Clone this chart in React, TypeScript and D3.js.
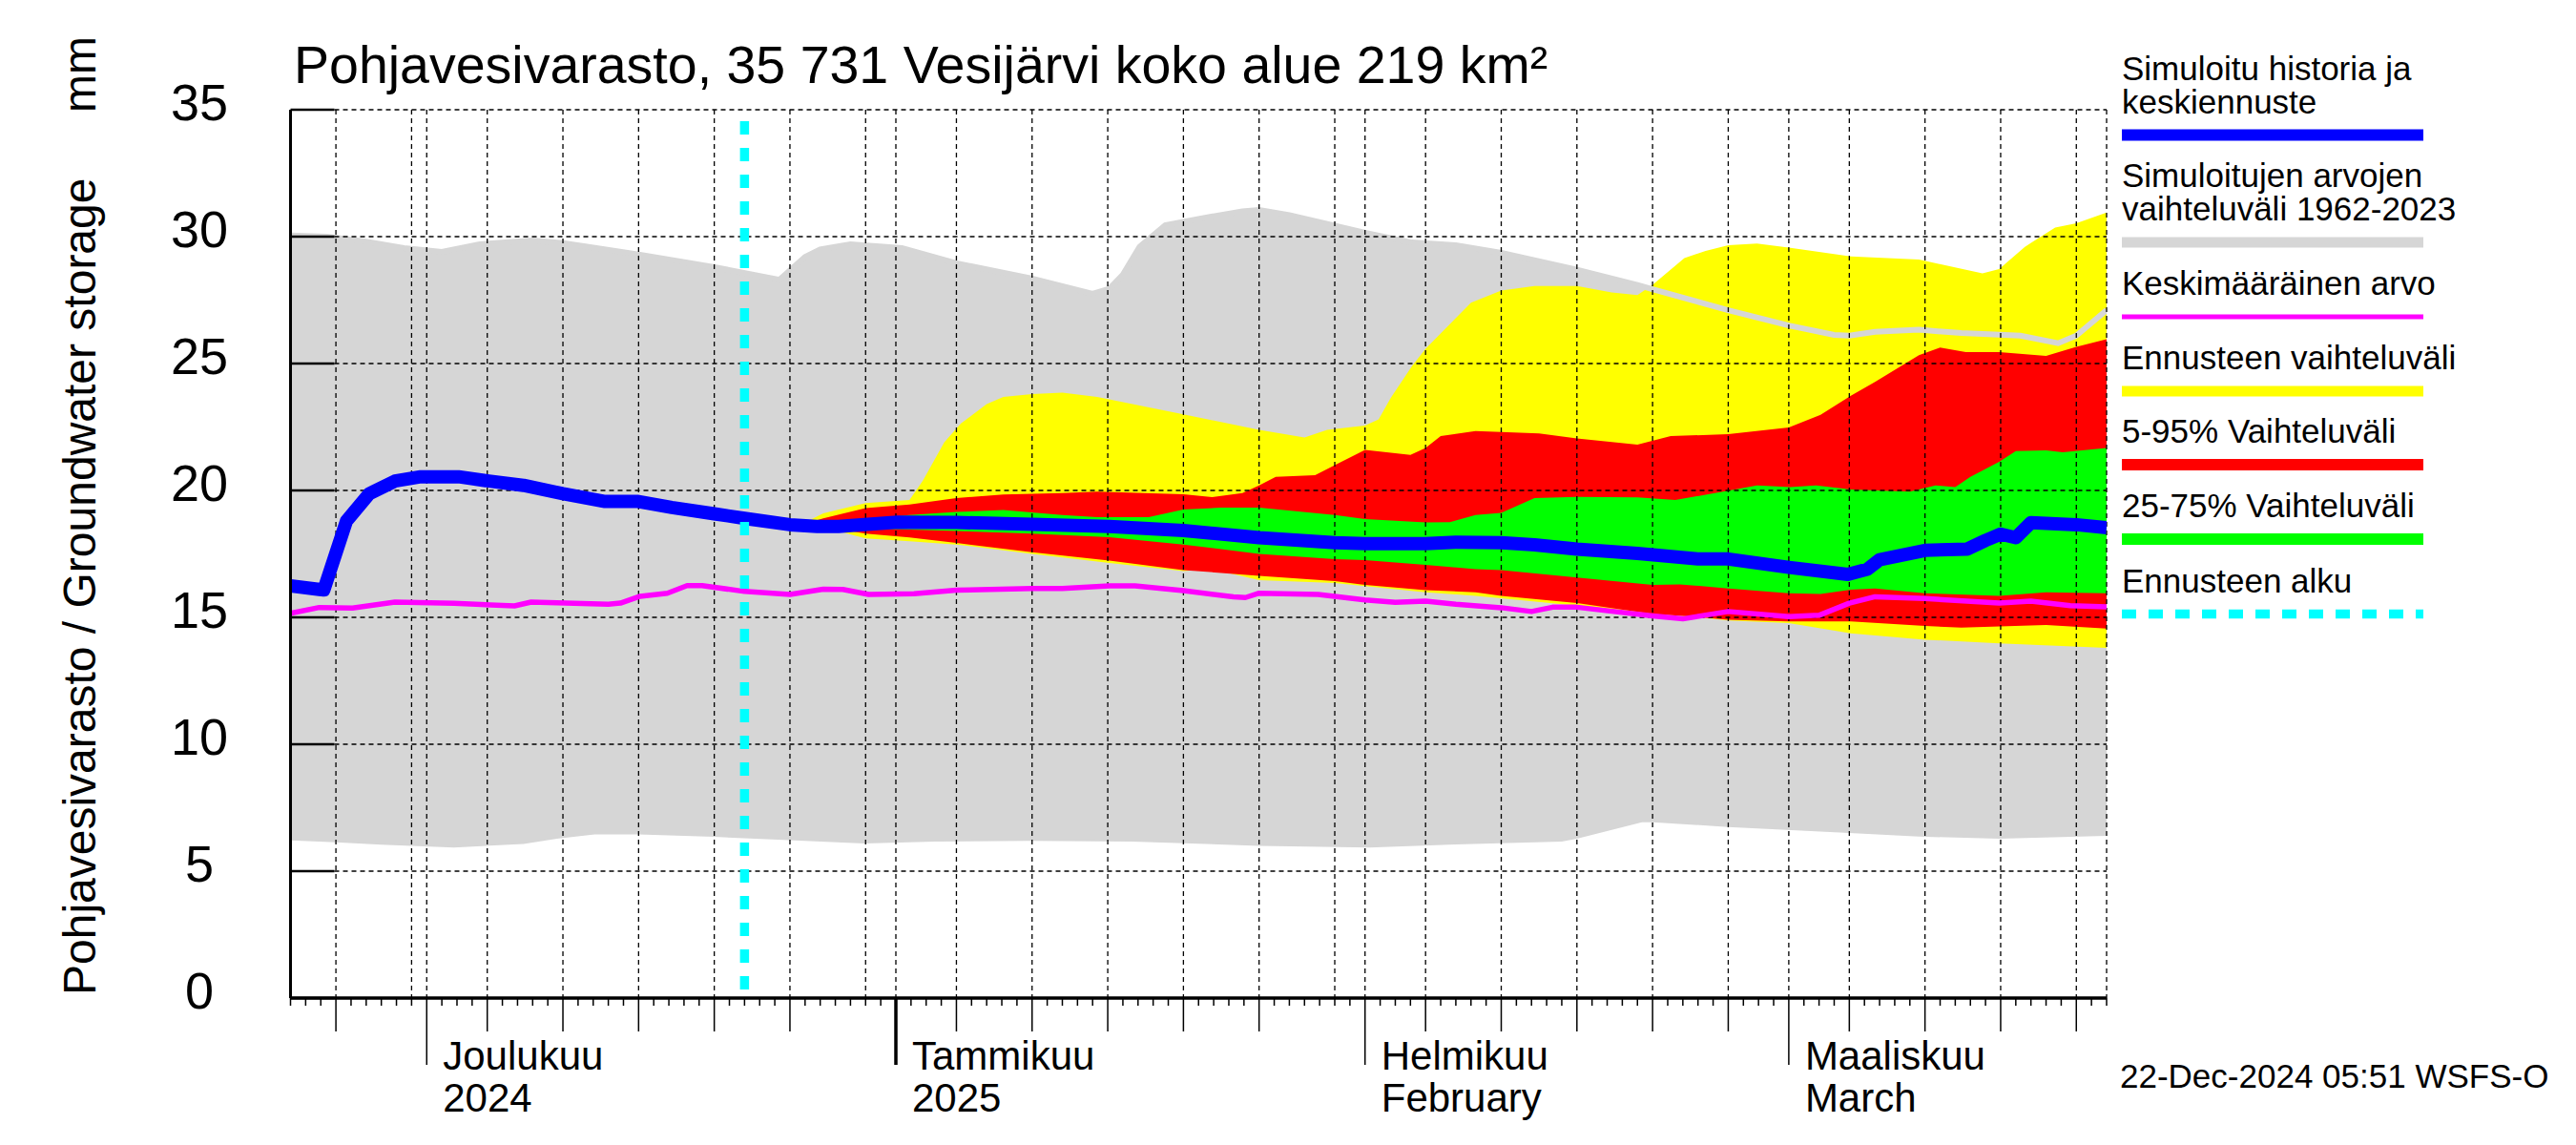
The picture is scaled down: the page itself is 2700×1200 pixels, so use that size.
import * as d3 from "d3";

// [day offset from 22 Nov 2024, mm]
type P = [number, number];

const START = new Date(2024, 10, 22);
const END = new Date(2025, 2, 22);
const FORECAST_START = new Date(2024, 11, 22);

const title = "Pohjavesivarasto, 35 731 Vesijärvi koko alue 219 km²";
const yLabel = "Pohjavesivarasto / Groundwater storage";
const yUnit = "mm";
const stamp = "22-Dec-2024 05:51 WSFS-O";

const yTicks = [0, 5, 10, 15, 20, 25, 30, 35];

const monthStarts = [
  new Date(2024, 11, 1),
  new Date(2025, 0, 1),
  new Date(2025, 1, 1),
  new Date(2025, 2, 1),
];
const monthNames = ["Joulukuu", "Tammikuu", "Helmikuu", "Maaliskuu"];
const monthSub = ["2024", "2025", "February", "March"];

// Simulated range 1962-2023
const greyUpper: P[] = [
  [0, 30.05], [2.4, 30.0], [5, 29.8], [7.5, 29.55], [10, 29.4], [12.5, 29.7],
  [16, 29.85], [18, 29.75], [23, 29.3], [28, 28.8], [32.3, 28.3], [34, 29.2],
  [35, 29.5], [37, 29.7], [40.4, 29.55], [44, 28.95], [49, 28.35], [53, 27.75],
  [54.1, 27.95], [55, 28.5], [56.1, 29.6], [57.8, 30.45], [60, 30.7], [62.9, 31.0],
  [64, 31.05], [66, 30.85], [68.5, 30.5], [71, 30.15], [74.1, 29.77], [77, 29.66],
  [80, 29.36], [85, 28.7], [89, 28.1], [90, 27.93], [95, 27.1], [99, 26.5],
  [102, 26.13], [103, 26.1], [104.7, 26.25], [107.6, 26.33], [110.4, 26.2],
  [114.3, 26.1], [116.8, 25.8], [118, 26.1], [120, 27.1],
];
const greyLower: P[] = [
  [0, 6.21], [3, 6.14], [6, 6.04], [10.8, 5.93], [15.4, 6.07], [17.6, 6.28],
  [20.1, 6.45], [23, 6.45], [28, 6.35], [32.2, 6.24], [37.9, 6.09], [42.6, 6.17],
  [48.8, 6.19], [55.6, 6.17], [64, 6.0], [71.3, 5.93], [77, 6.05], [84, 6.17],
  [85, 6.28], [89.3, 6.93], [90, 6.93], [95, 6.74], [103, 6.5], [107.6, 6.36],
  [112.9, 6.28], [120, 6.39],
];

// Forecast ranges
const yellowUpper: P[] = [
  [33.6, 18.62], [35.2, 19.1], [38, 19.5], [40.9, 19.62], [41.8, 20.4], [43.2, 21.9],
  [44.3, 22.64], [46, 23.4], [47.1, 23.68], [49, 23.8], [51, 23.85], [53.3, 23.68],
  [59, 23.0], [64, 22.39], [67, 22.09], [68.5, 22.39], [71, 22.56], [71.9, 22.8],
  [72.7, 23.65], [74.1, 24.9], [75, 25.58], [78, 27.4], [80, 27.88], [82.2, 28.05],
  [85, 28.05], [87.3, 27.8], [89, 27.7], [90, 28.1], [92.1, 29.15], [93.5, 29.44],
  [95, 29.66], [96.9, 29.73], [99, 29.57], [103.1, 29.22], [107.6, 29.1],
  [111.8, 28.55], [112.9, 28.72], [114.6, 29.6], [116.6, 30.36], [118, 30.53],
  [120, 30.95],
];
const yellowLower: P[] = [
  [33.6, 18.62], [35.2, 18.55], [38, 18.11], [40.9, 18.0], [44, 17.87], [49, 17.5],
  [54.1, 17.14], [59, 16.82], [60.9, 16.9], [64, 16.47], [69, 16.35], [75, 15.99],
  [78.3, 15.85], [80, 15.75], [85, 15.46], [90, 15.13], [92, 15.06], [95, 14.88],
  [99, 14.77], [103.1, 14.37], [108, 14.12], [112.9, 13.98], [120, 13.8],
];
const redUpper: P[] = [
  [33.6, 18.62], [35.2, 18.9], [38, 19.3], [40.9, 19.45], [44, 19.7], [47.1, 19.84],
  [51, 19.9], [53.3, 19.95], [59, 19.85], [60.9, 19.74], [62.9, 19.9], [64, 20.2],
  [65.1, 20.54], [67.7, 20.6], [69, 21.0], [71, 21.6], [74, 21.4], [75, 21.67],
  [76, 22.14], [78.3, 22.34], [80, 22.3], [82.5, 22.25], [85, 22.05], [89, 21.8],
  [91.2, 22.14], [95, 22.22], [99, 22.48], [101.1, 22.98], [103.1, 23.73],
  [104.7, 24.28], [107.6, 25.33], [109, 25.63], [110.7, 25.45], [112.9, 25.45],
  [116, 25.3], [118, 25.66], [120, 25.96],
];
const redLower: P[] = [
  [33.6, 18.62], [35.2, 18.58], [38, 18.3], [40.9, 18.15], [44, 17.93], [49, 17.57],
  [54.1, 17.24], [59, 16.86], [64, 16.64], [69, 16.43], [71, 16.28], [75, 16.07],
  [78.3, 15.99], [80, 15.85], [85, 15.56], [90, 15.13], [92, 15.06], [95, 14.91],
  [99, 14.84], [103.1, 14.84], [108, 14.66], [110.4, 14.6], [116, 14.7], [120, 14.56],
];
const greenUpper: P[] = [
  [33.6, 18.62], [35.2, 18.7], [38, 18.85], [40.9, 19.03], [44, 19.15], [47.1, 19.23],
  [51, 19.03], [53.3, 18.95], [56.7, 18.95], [59, 19.25], [61.5, 19.32], [64, 19.32],
  [69, 19.03], [71, 18.87], [75, 18.74], [76.6, 18.75], [78.3, 19.03], [80, 19.12],
  [82.2, 19.7], [85, 19.75], [89, 19.73], [91.5, 19.62], [95, 19.99], [96.9, 20.2],
  [99.1, 20.13], [100.8, 20.2], [103.1, 20.04], [107, 19.95], [108.7, 20.2],
  [110, 20.13], [111, 20.54], [112.9, 21.13], [114, 21.55], [116, 21.58],
  [117.1, 21.5], [120, 21.67],
];
const greenLower: P[] = [
  [33.6, 18.62], [35.2, 18.6], [38, 18.5], [40.4, 18.47], [44, 18.4], [49, 18.3],
  [54.1, 18.16], [59, 17.87], [64, 17.5], [69, 17.29], [71, 17.26], [75, 17.07],
  [78.3, 16.9], [80, 16.86], [85, 16.57], [90, 16.28], [91.8, 16.3], [95, 16.14],
  [99, 15.95], [101.1, 15.92], [103.1, 16.09], [104.7, 16.14], [108, 15.95],
  [112.9, 15.85], [116, 15.99], [120, 15.95],
];

// Simulated history and median forecast
const median: P[] = [
  [0, 16.24], [1.9, 16.1], [2.2, 16.08], [3.7, 18.8], [5.2, 19.87], [6.9, 20.37],
  [8.6, 20.54], [11.1, 20.54], [13.1, 20.37], [15.4, 20.2], [18, 19.87], [20.7, 19.57],
  [22.9, 19.57], [25.2, 19.33], [28, 19.08], [30, 18.9], [33, 18.65], [34.8, 18.58],
  [36.2, 18.58], [40.1, 18.75], [44, 18.74], [49, 18.67], [54.1, 18.58], [59, 18.42],
  [64, 18.14], [69, 17.94], [71, 17.9], [75, 17.9], [77, 17.96], [80, 17.94],
  [82.2, 17.86], [85, 17.69], [89, 17.52], [93, 17.3], [95, 17.3], [99, 16.97],
  [102.9, 16.69], [104.2, 16.9], [105, 17.27], [108, 17.64], [110.8, 17.69],
  [112, 18.03], [113, 18.28], [114, 18.14], [115, 18.73], [118, 18.65], [120, 18.53],
];

// Long-term mean
const mean: P[] = [
  [0, 15.16], [1.9, 15.39], [4.1, 15.37], [6.9, 15.6], [10.8, 15.55], [14.8, 15.45],
  [15.9, 15.6], [21, 15.52], [21.8, 15.56], [23.1, 15.83], [24.9, 15.95], [26.2, 16.25],
  [27.2, 16.25], [30, 16.02], [33, 15.9], [35.2, 16.11], [36.5, 16.1], [38.2, 15.9],
  [41.2, 15.93], [44, 16.07], [49, 16.14], [51, 16.14], [54.1, 16.24], [55.8, 16.24],
  [59, 16.05], [62.3, 15.81], [63.1, 15.78], [64, 15.95], [67.9, 15.9], [71, 15.69],
  [73, 15.59], [75, 15.64], [77, 15.52], [80, 15.38], [82, 15.23], [83.4, 15.4],
  [85, 15.4], [90, 15.06], [92, 14.94], [95, 15.23], [99, 15.03], [101, 15.08],
  [103, 15.56], [104.7, 15.81], [108, 15.74], [112.9, 15.56], [115, 15.64],
  [117.6, 15.46], [120, 15.41],
];

const legendItems = [
  { lines: ["Simuloitu historia ja", "keskiennuste"], key: "median" },
  { lines: ["Simuloitujen arvojen", "vaihteluväli 1962-2023"], key: "grey" },
  { lines: ["Keskimääräinen arvo"], key: "mean" },
  { lines: ["Ennusteen vaihteluväli"], key: "yellow" },
  { lines: ["5-95% Vaihteluväli"], key: "red" },
  { lines: ["25-75% Vaihteluväli"], key: "green" },
  { lines: ["Ennusteen alku"], key: "start" },
];

const FONT = "'Liberation Sans', Arial, Helvetica, sans-serif";
const GREY = "#d6d6d6";

const W = 2700;
const H = 1200;
const left = 304.5;
const right = 2208;
const top = 115;
const bottom = 1046;

export default function App() {
  const x = d3.scaleTime().domain([START, END]).range([left, right]);
  const y = d3.scaleLinear().domain([0, 35]).range([bottom, top]);
  const toDate = (d: number) => new Date(START.getTime() + d * 86400000);

  const line = d3
    .line<P>()
    .x((p) => x(toDate(p[0])))
    .y((p) => y(p[1]));
  const band = (up: P[], lo: P[]) => line(up.concat(lo.slice().reverse())) + "Z";

  const days = d3.timeDay.range(START, d3.timeDay.offset(END, 1));
  const gridDays = days.filter((d) => [1, 5, 10, 15, 20, 25, 30].includes(d.getDate()));
  const fiveDays = days.filter((d) => [5, 10, 15, 20, 25].includes(d.getDate()));
  const isMonth = (d: Date) => d.getDate() === 1;

  // legend styling per key
  const legendStyle: Record<string, { color: string; w: number; dash?: string }> = {
    median: { color: "#0000ff", w: 12 },
    grey: { color: GREY, w: 11 },
    mean: { color: "#ff00ff", w: 5 },
    yellow: { color: "#ffff00", w: 11 },
    red: { color: "#ff0000", w: 12 },
    green: { color: "#00ff00", w: 12 },
    start: { color: "#00ffff", w: 9.5, dash: "15,13" },
  };
  const legendTop = [83.5, 196, 309, 387, 464, 542, 620.5];

  return (
    <svg
      width={W}
      height={H}
      viewBox={`0 0 ${W} ${H}`}
      style={{ position: "absolute", left: 0, top: 0, background: "#fff" }}
      fontFamily={FONT}
    >
      <rect width={W} height={H} fill="#fff" />
      <defs>
        <clipPath id="plot">
          <rect x={left} y={top} width={right - left} height={bottom - top} />
        </clipPath>
      </defs>

      <g clipPath="url(#plot)">
        <path d={band(greyUpper, greyLower)} fill={GREY} />
        <path d={band(yellowUpper, yellowLower)} fill="#ffff00" />
        <path d={band(redUpper, redLower)} fill="#ff0000" />
        <path d={band(greenUpper, greenLower)} fill="#00ff00" />
        <path d={line(greyUpper) ?? ""} fill="none" stroke={GREY} strokeWidth={6} />
      </g>

      {/* grid */}
      <g stroke="#000" strokeWidth={1.3} strokeDasharray="5,4" fill="none">
        {yTicks
          .filter((t) => t > 0)
          .map((t) => (
            <line key={"h" + t} x1={left + 46} x2={right} y1={y(t)} y2={y(t)} />
          ))}
        {gridDays.map((d) => (
          <line key={"v" + d.getTime()} x1={x(d)} x2={x(d)} y1={top} y2={bottom} />
        ))}
        <line x1={right} x2={right} y1={top} y2={bottom} />
      </g>

      <g clipPath="url(#plot)" fill="none">
        <path d={line(mean) ?? ""} stroke="#ff00ff" strokeWidth={5.5} strokeLinejoin="round" />
        <path d={line(median) ?? ""} stroke="#0000ff" strokeWidth={14} strokeLinejoin="round" />
      </g>

      <line
        x1={x(FORECAST_START)}
        x2={x(FORECAST_START)}
        y1={127}
        y2={bottom}
        stroke="#00ffff"
        strokeWidth={9.5}
        strokeDasharray="14,14"
      />

      {/* y axis */}
      <line x1={left} x2={left} y1={top} y2={bottom} stroke="#000" strokeWidth={3} />
      {yTicks.map((t) => (
        <g key={"yt" + t}>
          <line x1={left} x2={left + 46} y1={y(t)} y2={y(t)} stroke="#000" strokeWidth={2.5} />
          <text x={209} y={y(t) + 11} fontSize={54} textAnchor="middle">
            {t}
          </text>
        </g>
      ))}
      <text transform={`translate(100,1043) rotate(-90)`} fontSize={48}>
        {yLabel}
      </text>
      <text transform={`translate(100,118) rotate(-90)`} fontSize={48}>
        {yUnit}
      </text>

      {/* x axis */}
      {days.map((d) => {
        const len = isMonth(d) ? 70 : fiveDays.includes(d) ? 35 : 8;
        const w = d.getMonth() === 0 && d.getDate() === 1 ? 3.5 : 1.5;
        return (
          <line key={"xt" + d.getTime()} x1={x(d)} x2={x(d)} y1={bottom} y2={bottom + len} stroke="#000" strokeWidth={w} />
        );
      })}
      <line x1={left} x2={right} y1={bottom} y2={bottom} stroke="#000" strokeWidth={3.5} />
      {monthStarts.map((m, i) => (
        <g key={"m" + i}>
          <text x={x(m) + 17} y={1121} fontSize={42}>
            {monthNames[i]}
          </text>
          <text x={x(m) + 17} y={1165} fontSize={42}>
            {monthSub[i]}
          </text>
        </g>
      ))}

      {/* title */}
      <text x={308} y={87} fontSize={55.5}>
        {title}
      </text>

      {/* legend */}
      {legendItems.map((item, i) => {
        const st = legendStyle[item.key];
        const base = legendTop[i];
        const barY = base + (item.lines.length - 1) * 35 + 23;
        return (
          <g key={item.key}>
            {item.lines.map((l, j) => (
              <text key={j} x={2224} y={base + j * 35} fontSize={35}>
                {l}
              </text>
            ))}
            <line x1={2224} x2={2540} y1={barY} y2={barY} stroke={st.color} strokeWidth={st.w} strokeDasharray={st.dash} />
          </g>
        );
      })}

      <text x={2222} y={1140} fontSize={35}>
        {stamp}
      </text>
    </svg>
  );
}
